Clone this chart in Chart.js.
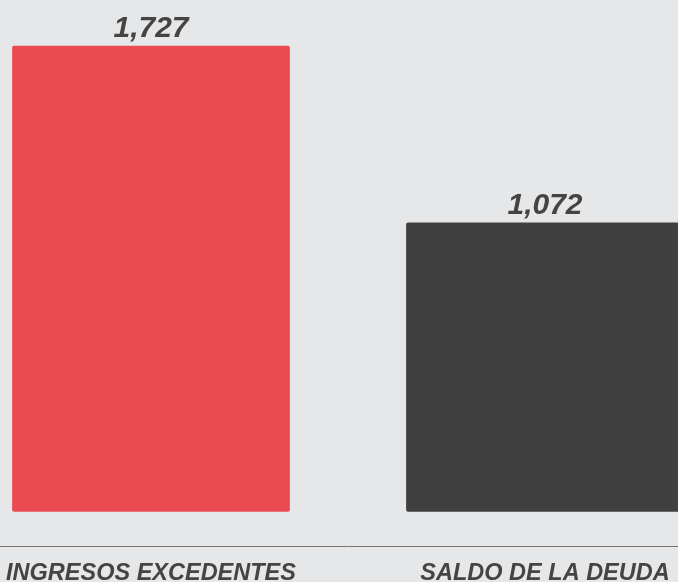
<!DOCTYPE html>
<html>
<head>
<meta charset="utf-8">
<script src="https://cdn.jsdelivr.net/npm/chart.js@4"></script>
<style>
    html, body { margin: 0; padding: 0; background: #e6e7e9; overflow: hidden; width: 678px; height: 582px; }
    #wrap { position: absolute; left: -46px; top: 0; width: 788px; height: 601px; }
</style>
</head>
<body>
<div id="wrap"><canvas id="debtChart"></canvas></div>
<script>
// Chart data
const categories = ['INGRESOS EXCEDENTES', 'SALDO DE LA DEUDA'];
const values = [1727, 1072];
const barColors = ['#ea4b51', '#404040'];

// Draw the value above each bar
const valueLabels = {
    id: 'valueLabels',
    afterDatasetsDraw(chart) {
        const ctx = chart.ctx;
        const meta = chart.getDatasetMeta(0);
        ctx.save();
        ctx.font = 'italic bold 30px "Liberation Sans", Arial, sans-serif';
        ctx.fillStyle = '#444444';
        ctx.textAlign = 'center';
        ctx.textBaseline = 'alphabetic';
        meta.data.forEach((bar, i) => {
            ctx.fillText(values[i].toLocaleString('en-US'), bar.x, bar.y - 9);
        });
        ctx.restore();
    }
};

document.addEventListener('DOMContentLoaded', function () {
    const ctx = document.getElementById('debtChart').getContext('2d');
    new Chart(ctx, {
        type: 'bar',
        data: {
            labels: categories,
            datasets: [{
                data: values,
                backgroundColor: barColors,
                borderRadius: 2,
                borderSkipped: false,
                categoryPercentage: 1,
                barPercentage: 0.705
            }]
        },
        options: {
            responsive: true,
            maintainAspectRatio: false,
            animation: false,
            layout: { padding: 0 },
            plugins: {
                legend: { display: false },
                tooltip: { enabled: false }
            },
            scales: {
                y: {
                    display: false,
                    min: -130,
                    max: 1897
                },
                x: {
                    grid: { display: false, drawTicks: false },
                    border: { display: true, color: '#757575', width: 1 },
                    ticks: {
                        padding: 13,
                        color: '#444444',
                        font: { family: '"Liberation Sans", Arial, sans-serif', size: 23.5, weight: 'bold', style: 'italic' }
                    }
                }
            }
        },
        plugins: [valueLabels]
    });
});
</script>
</body>
</html>
